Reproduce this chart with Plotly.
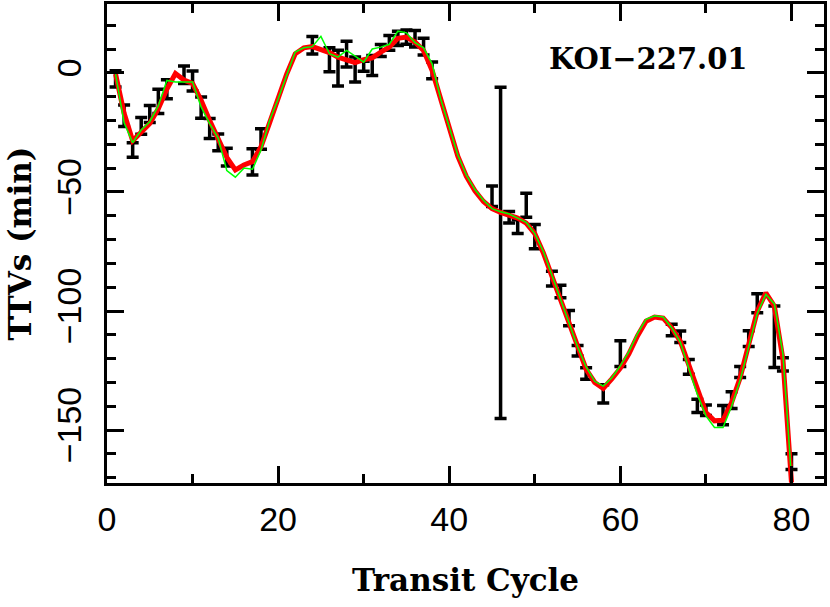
import plotly.graph_objects as go

# measured transit timing variations (minutes) with 1-sigma errors
cycle = [1, 2, 3, 4, 5, 6, 7, 9, 10, 11, 12, 13, 14, 17, 18,
         24, 26, 27, 28, 29, 30, 31, 32, 33, 34, 35, 36, 37, 38,
         45, 46, 47, 48, 49, 50, 52, 53, 54, 55, 56, 58, 60,
         66, 67, 68, 69, 70, 72, 73, 74, 75, 76, 78, 79, 80]
ttv = [-2.5, -18.0, -32.4, -22.3, -17.3, -12.0, -6.9, -0.8, -3.4, -14.6, -23.4, -29.2, -35.4, -37.4, -27.8,
       11.6, 5.5, 2.0, 7.9, 1.4, 2.8, 3.1, 9.4, 12.6, 14.5, 15.0, 14.3, 11.0, 1.0,
       -51.8, -75.6, -60.6, -64.6, -55.6, -68.8, -86.4, -91.8, -103.0, -116.7, -126.2, -134.8, -117.9,
       -108.0, -110.8, -123.4, -139.8, -141.7, -143.7, -137.4, -125.6, -111.6, -96.7, -110.8, -122.4, -163.2]
ttv_err = [3.4, 4.5, 3.0, 3.5, 3.6, 5.1, 4.0, 3.7, 4.2, 4.5, 4.2, 3.5, 3.7, 5.5, 4.3,
           3.7, 5.0, 7.5, 5.4, 5.2, 2.1, 4.2, 2.5, 3.1, 3.0, 3.0, 3.5, 3.5, 3.5,
           4.3, 69.5, 2.4, 2.9, 5.0, 5.1, 3.1, 2.6, 3.2, 2.2, 2.4, 3.8, 5.4,
           2.4, 2.4, 3.1, 2.8, 2.2, 4.0, 3.5, 2.3, 3.3, 4.0, 12.9, 2.8, 3.3]

# model curves, one value per transit
model_cycle = list(range(1, 81))
model_red = [-0.5, -17, -28.5, -25, -21.3, -15, -6.8, -0.3, -3, -4.5,
             -11.5, -20, -28.2, -35.5, -40.8, -38.7, -37.3, -31, -21, -10.5,
             -0.5, 8, 10.5, 11, 10, 8.5, 6.6, 5.5, 4.3, 5.5,
             6.3, 8.7, 10.8, 14.5, 15, 12.9, 9.4, 1, -11.5, -23.5,
             -35, -43.5, -49.5, -54, -57, -58.6, -59.6, -61, -63.1, -67.5,
             -75.6, -85.4, -95.2, -106, -116, -124.5, -130, -132.5, -128.5, -124,
             -118, -110.5, -104.3, -102.5, -103, -107, -112.6, -123.1, -133, -142.6,
             -146.1, -145.8, -138.4, -128, -114, -100.1, -92.4, -98, -120.3, -172]
model_green = [-0.5, -21, -29.3, -24, -20.5, -13.8, -3.2, -3.8, -3.8, -3.8,
               -14.3, -21.3, -27.5, -41, -43.8, -40, -40.5, -32.4, -20, -11,
               -1, 8.7, 10.5, 11, 15.3, 8, 6.6, 9.4, 7, 4.5,
               10, 10.8, 12, 17.5, 16.8, 12.7, 10.5, 3.8, -11, -23,
               -34.5, -43, -49, -53.5, -57, -58.3, -59.3, -61, -62.8, -67.5,
               -75, -85, -95, -105, -115, -123.5, -129.5, -131.5, -128, -123,
               -117, -109.5, -103.5, -102, -102.5, -107, -113, -124, -135, -144,
               -148.9, -148.9, -140, -129, -115, -101, -93, -97, -118, -170]

fig = go.Figure()

fig.add_trace(go.Scatter(x=cycle, y=ttv, mode="markers",
                         marker=dict(size=2, color="black"),
                         error_y=dict(type="data", array=ttv_err, visible=True,
                                      color="black", thickness=3.5, width=6),
                         showlegend=False))
fig.add_trace(go.Scatter(x=model_cycle, y=model_red, mode="lines",
                         line=dict(color="#ff0000", width=5), showlegend=False))
fig.add_trace(go.Scatter(x=model_cycle, y=model_green, mode="lines",
                         line=dict(color="#00ff00", width=1.5), showlegend=False))

fig.add_annotation(text="KOI\u2212227.01", xref="paper", yref="paper",
                   x=0.613, y=0.886, xanchor="left", yanchor="middle",
                   showarrow=False,
                   font=dict(family="DejaVu Serif", size=29, color="black", weight="bold"))

axis_common = dict(showline=True, linecolor="black", linewidth=3, mirror="ticks",
                   ticks="inside", ticklen=17, tickwidth=3, tickcolor="black",
                   showgrid=False, zeroline=False, automargin=False,
                   tickfont=dict(family="Liberation Sans", size=34, color="black"))

fig.update_xaxes(range=[0, 83.8], dtick=20, tick0=0,
                 minor=dict(dtick=10, ticks="inside", ticklen=9, tickwidth=3, tickcolor="black"),
                 ticklabelstandoff=4,
                 title=dict(text="Transit Cycle", standoff=33,
                            font=dict(family="DejaVu Serif", size=31, color="black", weight="bold")),
                 **axis_common)
fig.update_yaxes(range=[-172.2, 28.9], dtick=50, tick0=0, tickangle=-90,
                 minor=dict(dtick=10, ticks="inside", ticklen=9, tickwidth=3, tickcolor="black"),
                 ticklabelstandoff=9,
                 title=dict(text="TTVs (min)", standoff=10,
                            font=dict(family="DejaVu Serif", size=31, color="black", weight="bold")),
                 **axis_common)

fig.update_layout(width=830, height=607, plot_bgcolor="white", paper_bgcolor="white",
                  margin=dict(l=107, r=6, t=4, b=124))

# the page body has a default 8px margin; drop it so the figure sits at the corner
fig.write_html("out.html", config={"displayModeBar": False},
               post_script="document.body.style.margin='0';")
